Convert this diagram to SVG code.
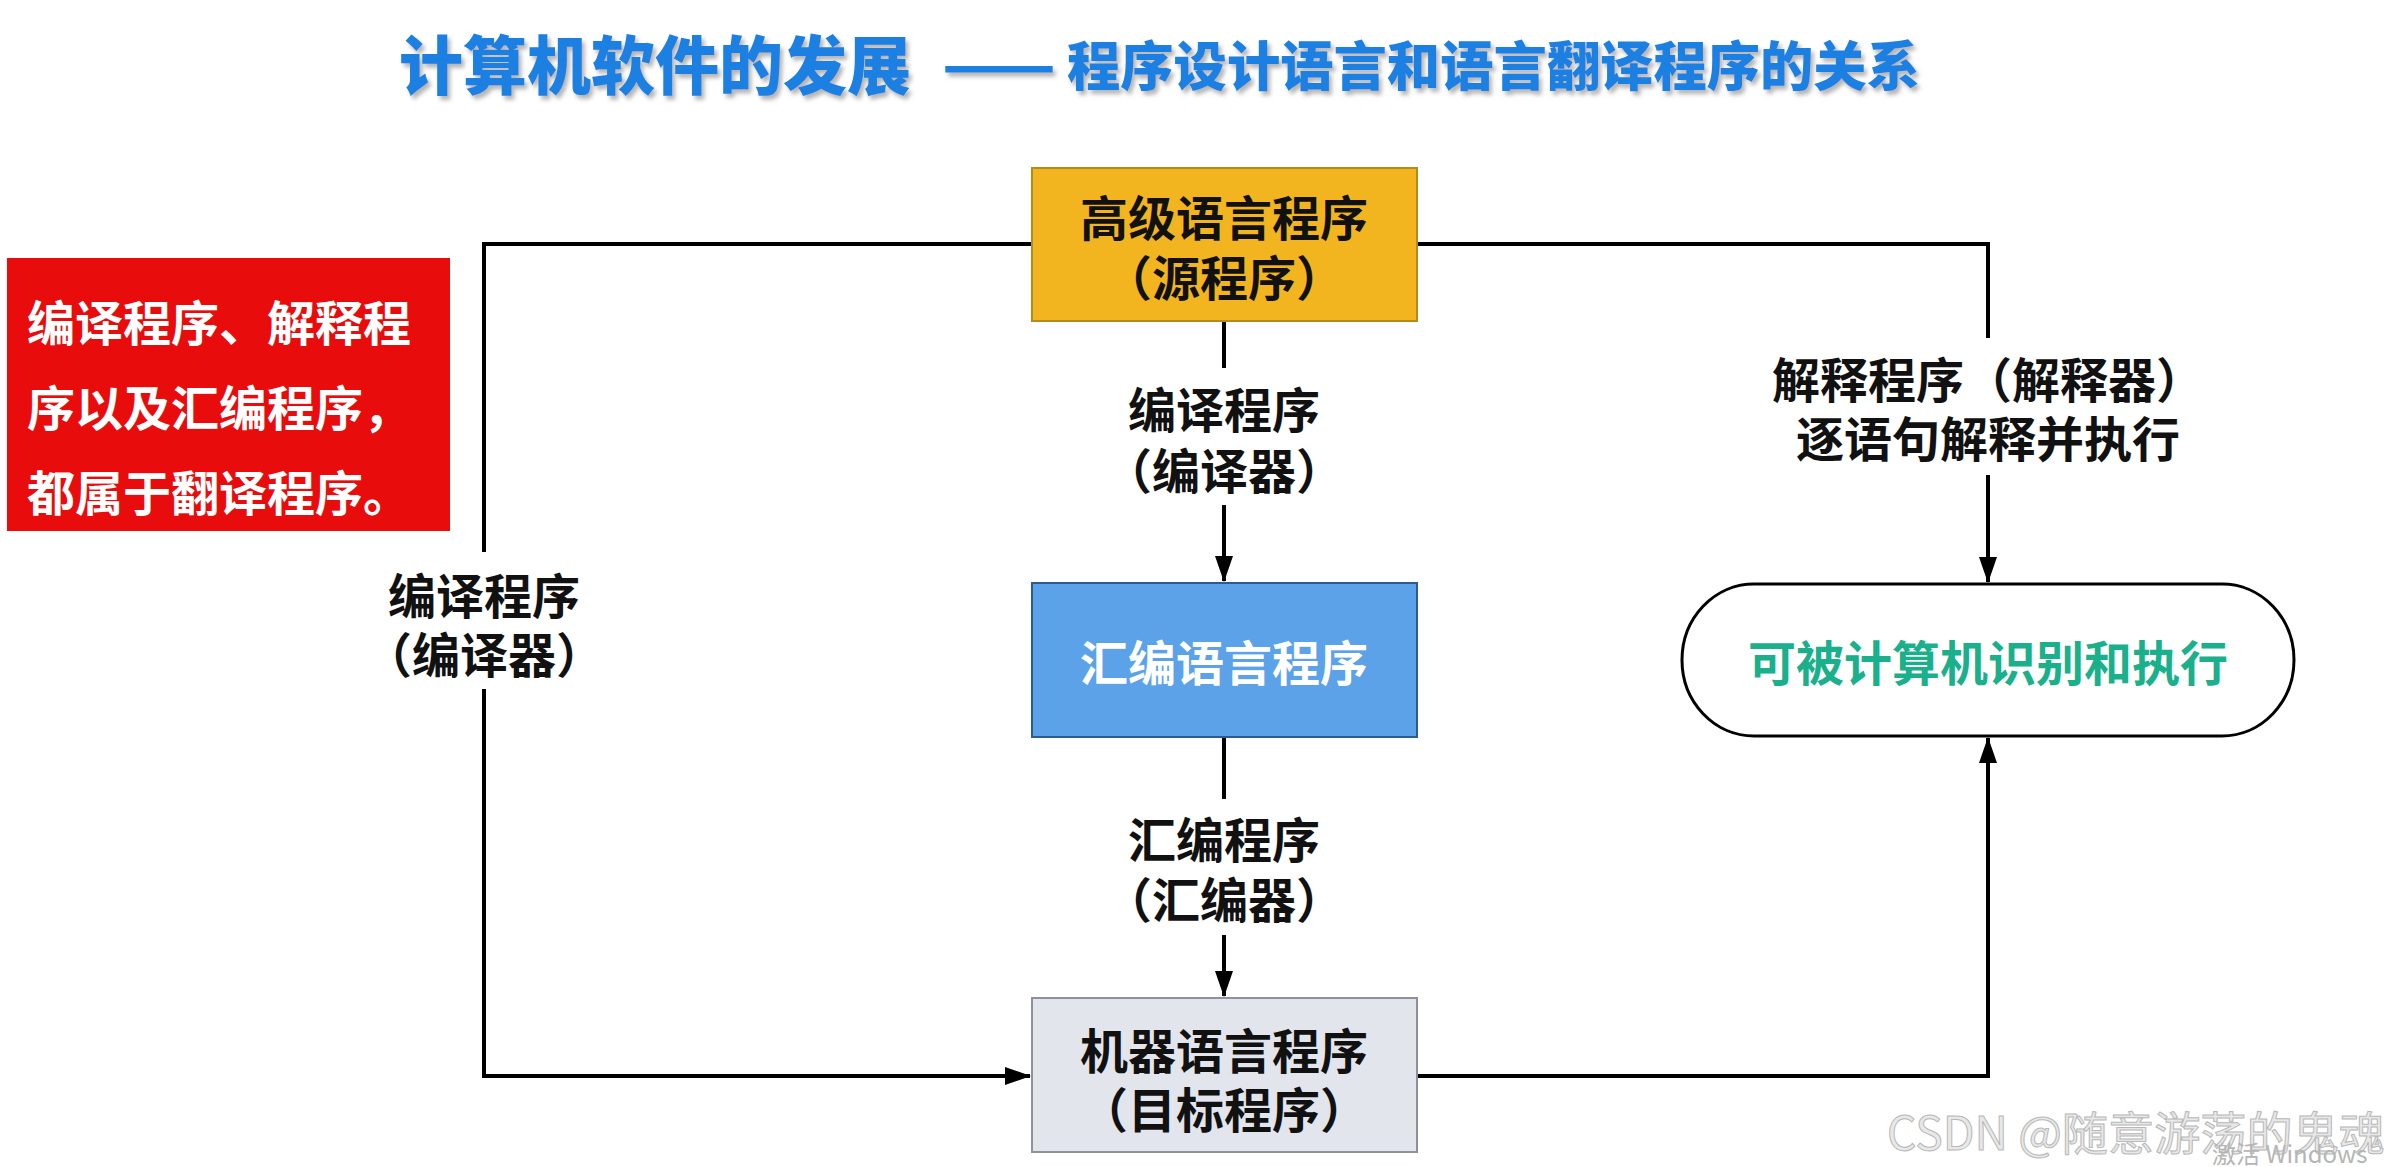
<svg xmlns="http://www.w3.org/2000/svg" width="2390" height="1167" viewBox="0 0 2390 1167">
  <defs>
    <marker id="arrow" markerUnits="userSpaceOnUse" markerWidth="26" markerHeight="18" refX="25" refY="9" orient="auto">
      <path d="M0,0 L26,9 L0,18 Z" fill="#000"/>
    </marker>
    <filter id="shadow" x="-5%" y="-30%" width="110%" height="160%">
      <feDropShadow dx="3" dy="4" stdDeviation="2" flood-color="#777" flood-opacity="0.55"/>
    </filter>
  </defs>
  <style>
    text { font-family: "Noto Sans CJK SC", "Noto Sans", sans-serif; font-weight: 700; dominant-baseline: central; }
    .lbl { font-size: 48px; fill: #111; text-anchor: middle; }
    .title { fill: #1e80e2; font-weight: 900; }
    .conn { fill: none; stroke: #000; stroke-width: 4; }
    .box { stroke-width: 2; }
  </style>
  <rect width="2390" height="1167" fill="#fff"/>

  <g id="title" filter="url(#shadow)">
    <text class="title"><tspan x="399" y="61" font-size="64" textLength="512" lengthAdjust="spacingAndGlyphs">计算机软件的发展</tspan><tspan x="942" y="61" font-size="57" textLength="114" lengthAdjust="spacingAndGlyphs">——</tspan><tspan x="1067" y="63" font-size="53" textLength="853" lengthAdjust="spacingAndGlyphs">程序设计语言和语言翻译程序的关系</tspan></text>
  </g>

  <g id="connectors">
    <polyline class="conn" points="1032,244 484,244 484,552"/>
    <polyline class="conn" points="484,689 484,1076 1030,1076" marker-end="url(#arrow)"/>
    <polyline class="conn" points="1417,244 1988,244 1988,338"/>
    <line class="conn" x1="1988" y1="475" x2="1988" y2="582" marker-end="url(#arrow)"/>
    <polyline class="conn" points="1417,1076 1988,1076 1988,738" marker-end="url(#arrow)"/>
    <line class="conn" x1="1224" y1="321" x2="1224" y2="368"/>
    <line class="conn" x1="1224" y1="505" x2="1224" y2="581" marker-end="url(#arrow)"/>
    <line class="conn" x1="1224" y1="737" x2="1224" y2="799"/>
    <line class="conn" x1="1224" y1="935" x2="1224" y2="996" marker-end="url(#arrow)"/>
    <text class="lbl"><tspan x="1224" y="407">编译程序</tspan><tspan x="1224" y="468">（编译器）</tspan></text>
    <text class="lbl"><tspan x="1224" y="837">汇编程序</tspan><tspan x="1224" y="897">（汇编器）</tspan></text>
    <text class="lbl"><tspan x="484" y="593">编译程序</tspan><tspan x="484" y="652">（编译器）</tspan></text>
    <text class="lbl"><tspan x="1988" y="377">解释程序（解释器）</tspan><tspan x="1988" y="436">逐语句解释并执行</tspan></text>
  </g>

  <g id="note">
    <rect x="7" y="258" width="443" height="273" fill="#e80c0c"/>
    <text font-size="48" fill="#fff"><tspan x="27" y="320">编译程序、解释程</tspan><tspan x="27" y="405">序以及汇编程序，</tspan><tspan x="27" y="490">都属于翻译程序。</tspan></text>
  </g>

  <g id="high-level">
    <rect class="box" x="1032" y="168" width="385" height="153" fill="#f3b51f" stroke="#b58a1c"/>
    <text class="lbl"><tspan x="1224" y="215">高级语言程序</tspan><tspan x="1224" y="275">（源程序）</tspan></text>
  </g>

  <g id="assembly">
    <rect class="box" x="1032" y="583" width="385" height="154" fill="#5ba2e8" stroke="#2e5a8e"/>
    <text class="lbl" x="1224" y="660" style="fill:#fff">汇编语言程序</text>
  </g>

  <g id="machine">
    <rect class="box" x="1032" y="998" width="385" height="154" fill="#e3e5ec" stroke="#8c919b"/>
    <text class="lbl"><tspan x="1224" y="1048">机器语言程序</tspan><tspan x="1224" y="1107">（目标程序）</tspan></text>
  </g>

  <g id="executable">
    <rect x="1682" y="584" width="612" height="152" rx="72" ry="76" fill="#fff" stroke="#000" stroke-width="3"/>
    <text class="lbl" x="1988" y="660" style="fill:#1bb08c">可被计算机识别和执行</text>
  </g>

  <g id="watermark">
    <text style="font-weight:400"><tspan x="1887" y="1130" font-size="46" textLength="498" lengthAdjust="spacingAndGlyphs" fill="#e8e8e8" stroke="#b8b8b8" stroke-width="1">CSDN @随意游荡的鬼魂</tspan><tspan x="2212" y="1152" font-size="24" fill="#b5b5b5">激活 Windows</tspan></text>
  </g>
</svg>
